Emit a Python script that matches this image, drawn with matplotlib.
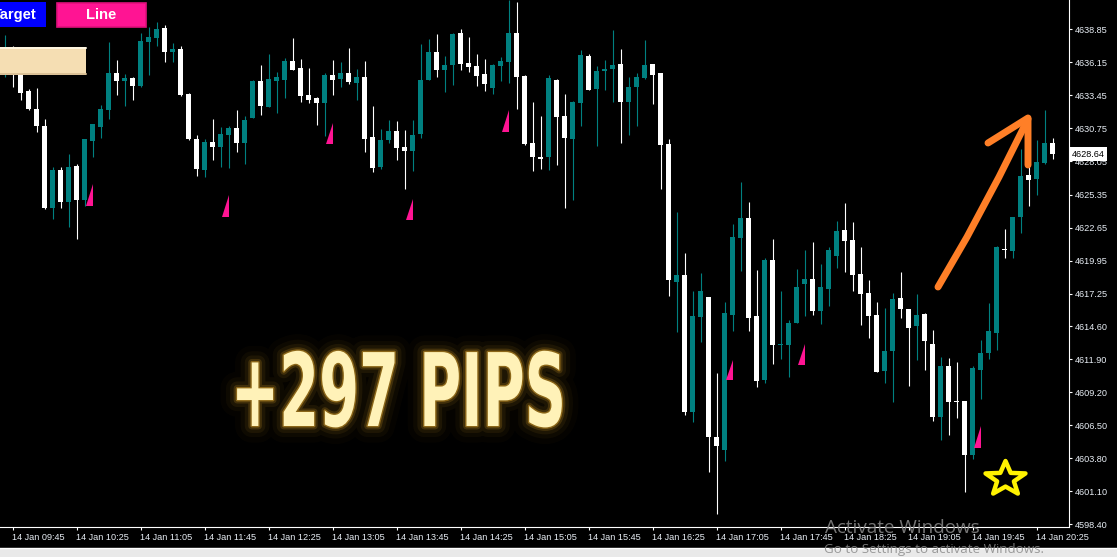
import matplotlib
matplotlib.use('Agg')
import matplotlib.pyplot as plt
import numpy as np
from matplotlib.patches import Rectangle, Polygon
from matplotlib.patheffects import AbstractPathEffect
from matplotlib.transforms import Affine2D

# 5 minute candles, 14 Jan 09:40 .. 20:35
opens = [4635.52, 4636.99, 4635.28, 4633.81, 4632.33, 4630.95, 4624.25, 4627.35, 4624.74, 4627.68,
         4624.90, 4629.72, 4630.86, 4632.25, 4635.28, 4634.62, 4634.87, 4634.21, 4637.81, 4638.14,
         4638.95, 4636.99, 4637.24, 4633.56, 4629.88, 4627.35, 4629.64, 4629.23, 4630.21, 4630.78,
         4629.56, 4631.60, 4634.62, 4632.50, 4634.62, 4634.70, 4636.26, 4635.68, 4633.48, 4633.23,
         4632.82, 4635.11, 4634.79, 4635.28, 4634.46, 4634.95, 4630.05, 4627.60, 4629.80, 4630.54,
         4629.23, 4628.90, 4630.29, 4634.70, 4636.99, 4635.52, 4635.93, 4638.54, 4636.09, 4635.85,
         4635.19, 4634.05, 4635.85, 4636.17, 4638.54, 4635.03, 4629.56, 4628.41, 4628.41, 4634.70,
         4631.76, 4629.88, 4632.82, 4636.66, 4633.97, 4635.44, 4635.60, 4636.01, 4632.91, 4634.13,
         4634.87, 4636.01, 4635.28, 4629.48, 4618.20, 4618.77, 4607.58, 4615.34, 4616.98, 4605.54,
         4604.47, 4615.50, 4621.80, 4623.43, 4615.42, 4610.19, 4620.00, 4613.05, 4613.05, 4614.85,
         4618.04, 4618.45, 4615.83, 4617.63, 4620.32, 4622.45, 4621.63, 4618.85, 4617.30, 4615.50,
         4610.93, 4612.56, 4616.89, 4615.99, 4614.61, 4615.59, 4613.14, 4607.17, 4611.34, 4608.48,
         4608.48, 4604.07, 4611.01, 4612.40, 4614.03, 4620.90, 4620.73, 4623.51, 4626.94, 4626.62,
         4627.92, 4629.56]
highs = [4638.38, 4637.48, 4635.36, 4633.97, 4634.05, 4631.52, 4627.60, 4627.60, 4628.66, 4627.84,
         4629.88, 4631.11, 4632.66, 4637.81, 4636.34, 4635.19, 4634.95, 4638.54, 4639.03, 4639.44,
         4639.20, 4637.73, 4637.48, 4633.64, 4630.21, 4629.88, 4631.52, 4630.86, 4630.95, 4632.25,
         4631.76, 4634.70, 4635.93, 4636.83, 4635.36, 4636.50, 4638.14, 4636.42, 4635.68, 4633.32,
         4635.28, 4636.34, 4636.17, 4637.32, 4635.60, 4636.26, 4632.58, 4630.70, 4631.44, 4631.35,
         4630.62, 4631.44, 4637.65, 4638.05, 4638.46, 4636.66, 4638.54, 4638.87, 4638.22, 4636.83,
         4636.42, 4636.01, 4636.58, 4641.24, 4641.08, 4635.11, 4632.91, 4631.76, 4635.11, 4634.79,
         4633.56, 4632.99, 4637.15, 4636.83, 4635.85, 4636.34, 4638.79, 4637.24, 4634.95, 4635.28,
         4637.97, 4636.01, 4635.28, 4629.88, 4623.92, 4620.57, 4617.47, 4618.94, 4616.98, 4610.77,
         4616.57, 4622.94, 4626.37, 4624.74, 4619.18, 4620.16, 4621.71, 4617.47, 4615.10, 4619.26,
         4620.81, 4621.47, 4619.67, 4621.06, 4623.18, 4624.65, 4623.10, 4621.06, 4618.36, 4616.57,
         4616.08, 4617.30, 4619.02, 4615.99, 4617.22, 4615.67, 4614.28, 4612.07, 4611.99, 4611.66,
         4608.48, 4611.34, 4613.46, 4616.48, 4621.14, 4622.53, 4623.51, 4629.07, 4627.76, 4629.80,
         4632.25, 4629.97]
lows = [4634.95, 4634.13, 4633.07, 4632.25, 4630.46, 4624.16, 4623.35, 4624.25, 4622.69, 4621.71,
        4624.41, 4628.41, 4629.97, 4631.52, 4633.48, 4632.58, 4633.07, 4634.13, 4635.11, 4637.48,
        4636.17, 4636.17, 4633.40, 4629.80, 4626.86, 4626.78, 4628.17, 4627.60, 4627.51, 4628.82,
        4627.84, 4631.60, 4631.84, 4632.50, 4632.01, 4633.23, 4635.52, 4632.91, 4632.82, 4631.03,
        4630.13, 4633.48, 4634.13, 4634.38, 4633.07, 4628.82, 4627.19, 4627.43, 4629.56, 4628.17,
        4625.80, 4627.27, 4629.97, 4634.70, 4634.95, 4633.72, 4634.30, 4635.52, 4635.36, 4634.21,
        4633.81, 4633.56, 4634.62, 4634.46, 4632.33, 4629.39, 4627.27, 4627.43, 4627.35, 4627.76,
        4624.25, 4624.90, 4630.95, 4633.89, 4629.31, 4633.89, 4632.91, 4629.56, 4630.21, 4630.95,
        4634.79, 4632.74, 4625.80, 4617.06, 4614.12, 4607.33, 4606.76, 4613.30, 4602.68, 4599.25,
        4603.58, 4614.20, 4619.10, 4614.20, 4609.62, 4609.95, 4611.50, 4611.91, 4610.44, 4614.85,
        4615.42, 4615.50, 4614.77, 4616.24, 4619.34, 4619.02, 4617.47, 4614.69, 4613.63, 4610.85,
        4609.95, 4608.40, 4615.26, 4609.70, 4611.83, 4611.01, 4606.84, 4605.29, 4605.70, 4607.09,
        4601.04, 4603.74, 4608.64, 4611.91, 4612.64, 4620.16, 4620.16, 4622.20, 4624.41, 4625.31,
        4627.84, 4628.25]
closes = [4636.99, 4635.28, 4633.64, 4632.33, 4630.95, 4624.25, 4627.35, 4624.74, 4627.60, 4624.90,
          4629.88, 4631.11, 4632.33, 4635.28, 4634.62, 4634.87, 4634.21, 4637.89, 4638.22, 4638.87,
          4636.99, 4637.24, 4633.48, 4629.88, 4627.43, 4629.64, 4629.23, 4630.29, 4630.78, 4629.56,
          4631.44, 4634.62, 4632.58, 4634.79, 4634.95, 4636.26, 4635.52, 4633.40, 4633.07, 4632.82,
          4635.11, 4634.70, 4635.28, 4634.54, 4634.95, 4629.88, 4627.51, 4629.80, 4630.54, 4629.15,
          4628.90, 4630.21, 4634.70, 4636.99, 4635.52, 4635.93, 4638.46, 4636.01, 4635.77, 4635.03,
          4634.38, 4635.93, 4636.26, 4638.54, 4634.95, 4629.48, 4628.41, 4628.25, 4634.87, 4631.68,
          4629.97, 4632.91, 4636.75, 4633.89, 4635.44, 4635.60, 4635.93, 4632.91, 4634.13, 4634.95,
          4635.93, 4635.11, 4629.39, 4618.36, 4618.77, 4607.58, 4615.42, 4617.47, 4605.54, 4604.80,
          4615.67, 4621.88, 4623.43, 4615.26, 4610.11, 4620.00, 4613.05, 4613.14, 4614.85, 4617.79,
          4618.45, 4615.83, 4617.79, 4620.81, 4622.37, 4621.55, 4618.77, 4617.22, 4615.42, 4610.85,
          4612.56, 4616.81, 4615.99, 4614.44, 4615.50, 4613.38, 4607.17, 4611.34, 4608.40, 4608.40,
          4604.07, 4611.17, 4612.40, 4614.20, 4621.06, 4620.81, 4623.51, 4626.86, 4626.53, 4628.00,
          4629.56, 4628.64]

# buy signal wedges: candle index, top and bottom price
signal_idx = [11, 28, 41, 51, 63, 91, 100, 122]
signal_top = [4626.21, 4625.31, 4631.19, 4624.98, 4632.25, 4611.83, 4613.14, 4606.44]
signal_bot = [4624.41, 4623.51, 4629.48, 4623.27, 4630.46, 4610.19, 4611.42, 4604.64]

ytick_vals = [4638.85, 4636.15, 4633.45, 4630.75, 4628.05, 4625.35, 4622.65, 4619.95,
              4617.25, 4614.60, 4611.90, 4609.20, 4606.50, 4603.80, 4601.10, 4598.40]
xtick_idx = [1, 9, 17, 25, 33, 41, 49, 57, 65, 73, 81, 89, 97, 105, 113, 121, 129]
xtick_labels = ['14 Jan 09:45', '14 Jan 10:25', '14 Jan 11:05', '14 Jan 11:45', '14 Jan 12:25',
                '14 Jan 13:05', '14 Jan 13:45', '14 Jan 14:25', '14 Jan 15:05', '14 Jan 15:45',
                '14 Jan 16:25', '14 Jan 17:05', '14 Jan 17:45', '14 Jan 18:25', '14 Jan 19:05',
                '14 Jan 19:45', '14 Jan 20:25']
last_price = 4628.64

plt.rcParams['font.family'] = ['Liberation Sans', 'DejaVu Sans']

W, H = 1117, 557
fig = plt.figure(figsize=(W / 100, H / 100), dpi=100, facecolor='black')

# price chart
ax = fig.add_axes([0, 30 / H, 1069 / W, 527 / H])
ax.set_facecolor('black')

o = np.array(opens)
hi = np.array(highs)
lo = np.array(lows)
c = np.array(closes)
x = np.arange(len(o))
colors = np.where(c > o, '#008080', '#ffffff')

ax.vlines(x, lo, hi, colors=colors, linewidth=0.8, zorder=2)
body = np.maximum(np.abs(c - o), 0.09)
ax.bar(x, body, width=0.625, bottom=np.minimum(o, c), color=colors, linewidth=0, zorder=3)

for i, t, b in zip(signal_idx, signal_top, signal_bot):
    ax.add_patch(Polygon([(i - 0.85, b), (i + 0.06, b), (i + 0.06, t)], closed=True,
                         fc='#ff1493', ec='none', zorder=4))

ax.set_xlim(-0.5625, 133.0625)
ax.set_ylim(4598.19, 4641.24)

ax.spines['top'].set_visible(False)
ax.spines['left'].set_visible(False)
ax.spines['right'].set_color('white')
ax.spines['bottom'].set_color('white')
ax.spines['right'].set_linewidth(0.8)
ax.spines['bottom'].set_linewidth(0.8)

ax.yaxis.tick_right()
ax.set_yticks(ytick_vals, ['%.2f' % v for v in ytick_vals])
ax.set_xticks(xtick_idx, xtick_labels)
ax.tick_params(colors='white', labelcolor='#e8eef5', labelsize=6.6, length=2.2, width=0.8, pad=2)
plt.setp(ax.get_xticklabels(), ha='left')

# current price tag
ax.annotate('%.2f' % last_price, xy=(1.0, last_price), xycoords=('axes fraction', 'data'),
            xytext=(3, 0), textcoords='offset pixels', ha='left', va='center',
            fontsize=6.6, color='black', annotation_clip=False, zorder=10,
            bbox=dict(boxstyle='square,pad=0.25', fc='white', ec='none'))

# overlay in pixel coords for the drawings on top
ov = fig.add_axes([0, 0, 1, 1])
ov.set_xlim(0, W)
ov.set_ylim(H, 0)
ov.axis('off')
ov.patch.set_visible(False)
ov.set_zorder(5)

# buttons
ov.add_patch(Rectangle((-20, 2), 66, 25, fc='#0000ff', ec='none'))
ov.text(36.5, 15, 'Target', color='white', fontsize=10.6, fontweight='bold', ha='right', va='center')
ov.add_patch(Rectangle((56.5, 2.5), 89, 24, fc='#ff1493', ec='#e0107c', lw=1.2))
ov.text(101, 15, 'Line', color='white', fontsize=10.6, fontweight='bold', ha='center', va='center')
ov.add_patch(Rectangle((-2, 47), 88, 28, fc='#f5deb3', ec='none'))
ov.plot([0, 86], [47.8, 47.8], color='#fffae8', lw=1.2)
ov.plot([0, 86], [74.2, 74.2], color='#d6bc92', lw=1.2)

# orange arrow
ov.plot([938, 967, 999, 1028], [287, 237, 177, 119], color='#ff7f27', lw=5,
        solid_capstyle='round', solid_joinstyle='round')
ov.plot([988, 1028, 1028], [143, 118, 165], color='#ff7f27', lw=5,
        solid_capstyle='round', solid_joinstyle='round')

# yellow star
ang = np.deg2rad(-90 + 36 * np.arange(10))
rad = np.where(np.arange(10) % 2 == 0, 1.0, 0.42)
star = np.column_stack([1005.5 + 21 * rad * np.cos(ang), 479 + 18 * rad * np.sin(ang)])
ov.add_patch(Polygon(star, closed=True, fc='none', ec='#fff200', lw=3.2, joinstyle='round'))


# glowing headline, squeezed horizontally to match the condensed look
class Squeezed(AbstractPathEffect):
    def __init__(self, sx, cx, lw=None, color=None, alpha=1.0):
        super().__init__()
        self.sx, self.cx, self.lw, self.color, self.alpha = sx, cx, lw, color, alpha

    def draw_path(self, renderer, gc, tpath, affine, rgbFace=None):
        aff = affine + Affine2D().translate(-self.cx, 0).scale(self.sx, 1).translate(self.cx, 0)
        gc0 = renderer.new_gc()
        gc0.copy_properties(gc)
        if self.lw is None:
            renderer.draw_path(gc0, tpath, aff, rgbFace)
        else:
            gc0.set_foreground(self.color)
            gc0.set_alpha(self.alpha)
            gc0.set_linewidth(self.lw)
            gc0.set_joinstyle('round')
            gc0.set_capstyle('round')
            renderer.draw_path(gc0, tpath, aff, None)
        gc0.restore()


cx = 398.5
pips = ov.text(cx, 426, '+297 PIPS', color='#fff2b8', fontsize=73, fontweight='bold',
               ha='center', va='baseline', family=['Liberation Sans Narrow', 'DejaVu Sans'])
bb = pips.get_window_extent(fig.canvas.get_renderer())
sx = min(1.0, 335 / bb.width)
glow = [(24, 0.025), (16, 0.045), (10, 0.08), (5, 0.18), (2, 0.45)]
pips.set_path_effects([Squeezed(sx, cx, lw, '#e6a92a', a) for lw, a in glow] + [Squeezed(sx, cx)])

# bottom strip and windows watermark
ov.add_patch(Rectangle((0, 548), W, 10, fc='#e9e9e9', ec='none'))
ov.plot([0, W], [548, 548], color='#ffffff', lw=1)
ov.text(825, 533, 'Activate Windows', fontsize=13.6, color='#8a8a8a', alpha=0.85,
        family=['Open Sans', 'DejaVu Sans'], ha='left', va='baseline')
ov.text(824, 553, 'Go to Settings to activate Windows.', fontsize=9.6, color='#8a8a8a', alpha=0.85,
        family=['Open Sans', 'DejaVu Sans'], ha='left', va='baseline')

fig.savefig('out.png', dpi=100, facecolor='black')
